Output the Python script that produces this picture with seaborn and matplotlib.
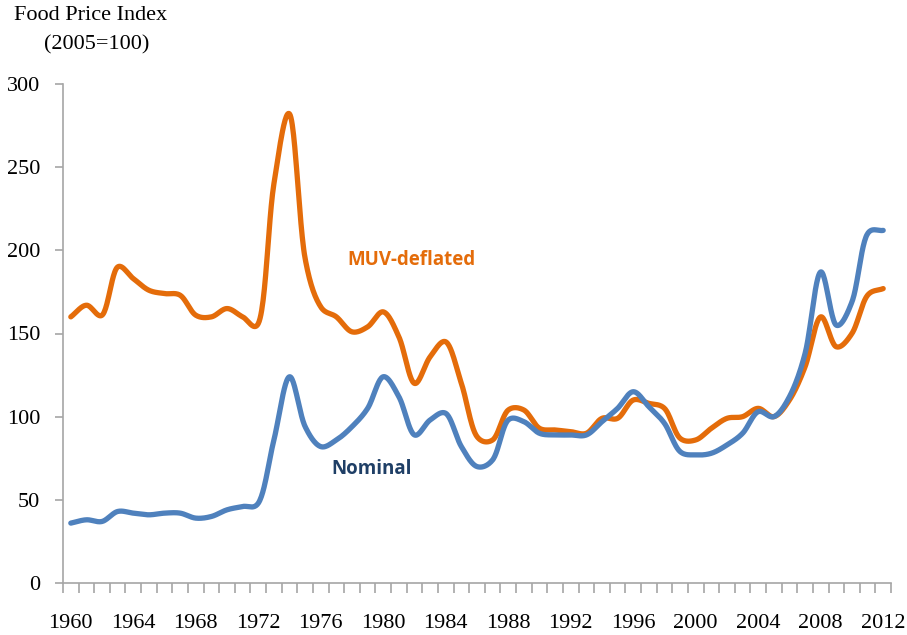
import numpy as np
import pandas as pd
import matplotlib
matplotlib.use("Agg")
import matplotlib.pyplot as plt
import seaborn as sns

years = list(range(1960, 2013))
nominal = [36, 38, 37, 43, 42, 41, 42, 42, 39, 40, 44, 46, 48, 86, 124, 94, 82, 86, 94, 105,
           124, 112, 89, 98, 102, 82, 70, 74, 98, 97, 90, 89, 89, 89, 97, 105, 115, 106, 96, 79,
           77, 78, 83, 90, 103, 100, 112, 138, 187, 155, 169, 210, 212]
muv_deflated = [160, 167, 161, 190, 183, 176, 174, 173, 161, 160, 165, 160, 156, 240, 282, 195, 166, 160, 151, 154,
                163, 148, 120, 136, 145, 120, 88, 86, 104, 104, 93, 92, 91, 90, 99, 99, 110, 108, 105, 87,
                86, 93, 99, 100, 105, 100, 110, 130, 160, 142, 150, 173, 177]
series_names = ["Nominal", "MUV-deflated"]
yticks = [0, 50, 100, 150, 200, 250, 300]
xlabels = list(range(1960, 2013, 4))

ORANGE = "#E46C0A"
BLUE = "#4F81BD"

# approximate pixel scales, used only to make the smoothing look like a spreadsheet's smoothed line
SX, SY = 15.62, 1.663


def smooth_line(x, y, n=24, alpha=0.25):
    """Catmull-Rom curve (drawing only) through the data points."""
    P = np.column_stack([np.asarray(x, float) * SX, np.asarray(y, float) * SY])
    P = np.vstack([2 * P[0] - P[1], P, 2 * P[-1] - P[-2]])
    out = []
    for i in range(1, len(P) - 2):
        p0, p1, p2, p3 = P[i - 1], P[i], P[i + 1], P[i + 2]
        t0 = 0.0
        t1 = t0 + np.linalg.norm(p1 - p0) ** alpha
        t2 = t1 + np.linalg.norm(p2 - p1) ** alpha
        t3 = t2 + np.linalg.norm(p3 - p2) ** alpha
        t = np.linspace(t1, t2, n, endpoint=False)[:, None]
        a1 = (t1 - t) / (t1 - t0) * p0 + (t - t0) / (t1 - t0) * p1
        a2 = (t2 - t) / (t2 - t1) * p1 + (t - t1) / (t2 - t1) * p2
        a3 = (t3 - t) / (t3 - t2) * p2 + (t - t2) / (t3 - t2) * p3
        b1 = (t2 - t) / (t2 - t0) * a1 + (t - t0) / (t2 - t0) * a2
        b2 = (t3 - t) / (t3 - t1) * a2 + (t - t1) / (t3 - t1) * a3
        c = (t2 - t) / (t2 - t1) * b1 + (t - t1) / (t2 - t1) * b2
        out.append(c)
    out.append(P[-2][None, :])
    out = np.vstack(out)
    return out[:, 0] / SX, out[:, 1] / SY


frames = []
for name, vals in zip(series_names, [nominal, muv_deflated]):
    sx, sy = smooth_line(years, vals)
    frames.append(pd.DataFrame({"year": sx, "value": sy, "series": name}))
df = pd.concat(frames, ignore_index=True)

sns.set_theme(style="white")
plt.rcParams["font.family"] = ["Liberation Serif", "DejaVu Serif"]

fig = plt.figure(figsize=(9.07, 6.35), dpi=100)
ax = fig.add_axes([63 / 907, 1 - 583 / 635, (891 - 63) / 907, (583 - 84) / 635])

sns.lineplot(data=df, x="year", y="value", hue="series", hue_order=["MUV-deflated", "Nominal"],
             palette={"Nominal": BLUE, "MUV-deflated": ORANGE}, sort=False, estimator=None,
             linewidth=3.8, legend=False, ax=ax, solid_capstyle="round")

ax.set_xlim(1959.5, 2012.5)
ax.set_ylim(0, 300)
ax.set_xlabel("")
ax.set_ylabel("")
for s in ["top", "right"]:
    ax.spines[s].set_visible(False)
for s in ["left", "bottom"]:
    ax.spines[s].set_color("#A6A6A6")
    ax.spines[s].set_linewidth(1.2)

ax.set_yticks(yticks)
ax.set_yticklabels([str(v) for v in yticks])
ax.set_xticks(xlabels)
ax.set_xticklabels([str(v) for v in xlabels])
ax.set_xticks(np.arange(1959.5, 2013, 1), minor=True)
ax.tick_params(axis="y", which="major", direction="out", length=6, width=1.2, color="#A6A6A6",
               labelsize=16, pad=10.5, left=True)
ax.tick_params(axis="x", which="major", length=0, labelsize=16, pad=22)
ax.tick_params(axis="x", which="minor", direction="out", length=7, width=1.2, color="#A6A6A6", bottom=True)
for lab in ax.get_xticklabels() + ax.get_yticklabels():
    lab.set_color("black")

fig.text(14 / 907, 1 - 15 / 635, "Food Price Index", fontsize=16, ha="left", va="center", color="black")
fig.text(44 / 907, 1 - 45 / 635, "(2005=100)", fontsize=16, ha="left", va="center", color="black")

ax.text(1977.7, 194, "MUV-deflated", color=ORANGE, fontsize=13.5, fontweight="bold",
        family=["Open Sans", "DejaVu Sans"], ha="left", va="center")
ax.text(1976.7, 68.5, "Nominal", color="#1F3F66", fontsize=13.5, fontweight="bold",
        family=["Open Sans", "DejaVu Sans"], ha="left", va="center")

fig.savefig("out.png", dpi=100)
